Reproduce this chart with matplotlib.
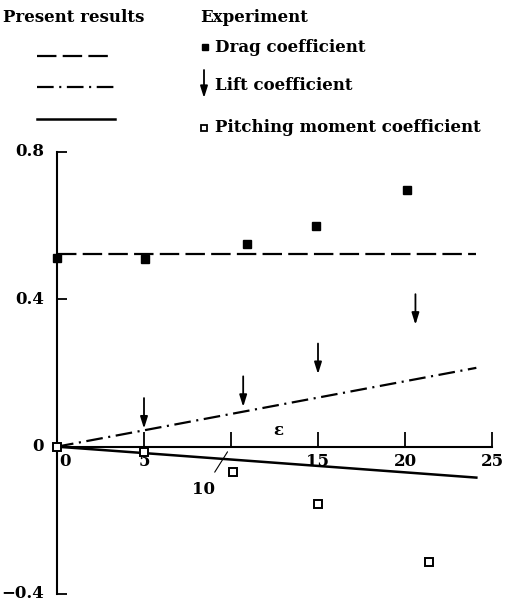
"""Drag, lift and pitching moment coefficients vs epsilon"""
import matplotlib
matplotlib.use("Agg")
import matplotlib.pyplot as plt
from matplotlib.lines import Line2D

plt.rcParams['font.family'] = ['DejaVu Serif']
plt.rcParams['font.weight'] = 'bold'
plt.rcParams['lines.scale_dashes'] = False

# present results (straight lines, end points)
line_eps = [0, 24.1]
drag_line = [0.523, 0.523]
lift_line = [0.0, 0.214]
pitch_line = [0.0, -0.084]

# experiment
drag_eps = [0, 5.05, 10.9, 14.9, 20.1]
drag_exp = [0.512, 0.51, 0.551, 0.60, 0.697]
lift_eps = [5, 10.7, 15, 20.6]
lift_exp = [0.049, 0.108, 0.197, 0.331]
pitch_eps = [0, 5, 10.1, 15, 21.4]
pitch_exp = [0.0, -0.015, -0.068, -0.157, -0.314]

xticks = [0, 5, 10, 15, 20, 25]
xtick_labels = ['0', '5', '10', '15', '20', '25']
yticks = [-0.4, 0, 0.4, 0.8]
ytick_labels = ['\u22120.4', '0', '0.4', '0.8']

drag_dash = (0, (14, 4.5))
lift_dash = (0, (12, 4, 1.5, 4))
fs = 12

fig = plt.figure(figsize=(5.06, 6.06), dpi=100)
ax = fig.add_axes([57 / 506, 12 / 606, 435 / 506, 442 / 606])

ax.plot(line_eps, drag_line, color='black', lw=1.6, ls=drag_dash)
ax.plot(line_eps, lift_line, color='black', lw=1.6, ls=lift_dash)
ax.plot(line_eps, pitch_line, color='black', lw=1.8)

ax.plot(drag_eps, drag_exp, 's', color='black', ms=5.8, clip_on=False, zorder=5)
ax.plot(pitch_eps, pitch_exp, 's', mfc='white', mec='black', mew=1.4, ms=5.5,
        clip_on=False, zorder=5)
for xe, ye in zip(lift_eps, lift_exp):
    ax.annotate('', xy=(xe, ye), xytext=(0, 22), textcoords='offset points',
                arrowprops=dict(arrowstyle='-|>,head_length=0.7,head_width=0.22',
                                color='black', lw=1.3, shrinkA=0, shrinkB=0))

ax.set_xlim(0, 25)
ax.set_ylim(-0.4, 0.8)
ax.spines['top'].set_visible(False)
ax.spines['right'].set_visible(False)
ax.spines['bottom'].set_position(('data', 0))
ax.spines['left'].set_linewidth(1.5)
ax.spines['bottom'].set_linewidth(1.5)

ax.set_yticks(yticks)
ax.set_yticklabels(ytick_labels, fontsize=fs, fontweight='bold', va='center')
ax.tick_params(axis='y', direction='in', length=7, width=1.3, pad=9.5)

ax.set_xticks(xticks)
ax.set_xticklabels([])
ax.tick_params(axis='x', direction='in', length=11, width=1.3)

# x tick labels below the axis, "0" nudged right and "10" with a leader
for xv, lab in zip(xticks, xtick_labels):
    if lab == '10':
        ax.annotate(lab, xy=(9.8, -0.014), xytext=(-17, -27),
                    textcoords='offset points', ha='center', va='center',
                    fontsize=fs, fontweight='bold',
                    arrowprops=dict(arrowstyle='-', color='black', lw=0.8,
                                    shrinkA=5, shrinkB=0))
    else:
        dx = 6 if lab == '0' else 0
        ax.annotate(lab, xy=(xv, 0), xytext=(dx, -11), textcoords='offset points',
                    ha='center', va='center', fontsize=fs, fontweight='bold')

ax.text(12.7, 0.045, '\u03b5', ha='center', va='center', fontsize=fs,
        fontweight='bold')

# legend block drawn in pixel coordinates
lg = fig.add_axes([0, 0, 1, 1], zorder=-1)
lg.set_xlim(0, 506)
lg.set_ylim(606, 0)
lg.axis('off')

lg.text(3, 17, 'Present results', ha='left', va='center', fontsize=fs)
lg.text(200, 17, 'Experiment', ha='left', va='center', fontsize=fs)

lg.add_line(Line2D([37, 110], [56, 56], color='black', lw=1.6, ls=drag_dash))
lg.add_line(Line2D([37, 117], [87, 87], color='black', lw=1.6, ls=lift_dash))
lg.add_line(Line2D([37, 115], [119, 119], color='black', lw=1.8))

lg.plot([205], [47], 's', color='black', ms=5)
lg.annotate('', xy=(204, 98), xytext=(204, 70),
            arrowprops=dict(arrowstyle='-|>,head_length=0.7,head_width=0.22',
                            color='black', lw=1.3, shrinkA=0, shrinkB=0))
lg.plot([204], [128], 's', mfc='white', mec='black', mew=1.3, ms=5)

lg.text(215, 47, 'Drag coefficient', ha='left', va='center', fontsize=fs)
lg.text(215, 85, 'Lift coefficient', ha='left', va='center', fontsize=fs)
lg.text(215, 127, 'Pitching moment coefficient', ha='left', va='center', fontsize=fs)

fig.savefig('out.png', dpi=100)
